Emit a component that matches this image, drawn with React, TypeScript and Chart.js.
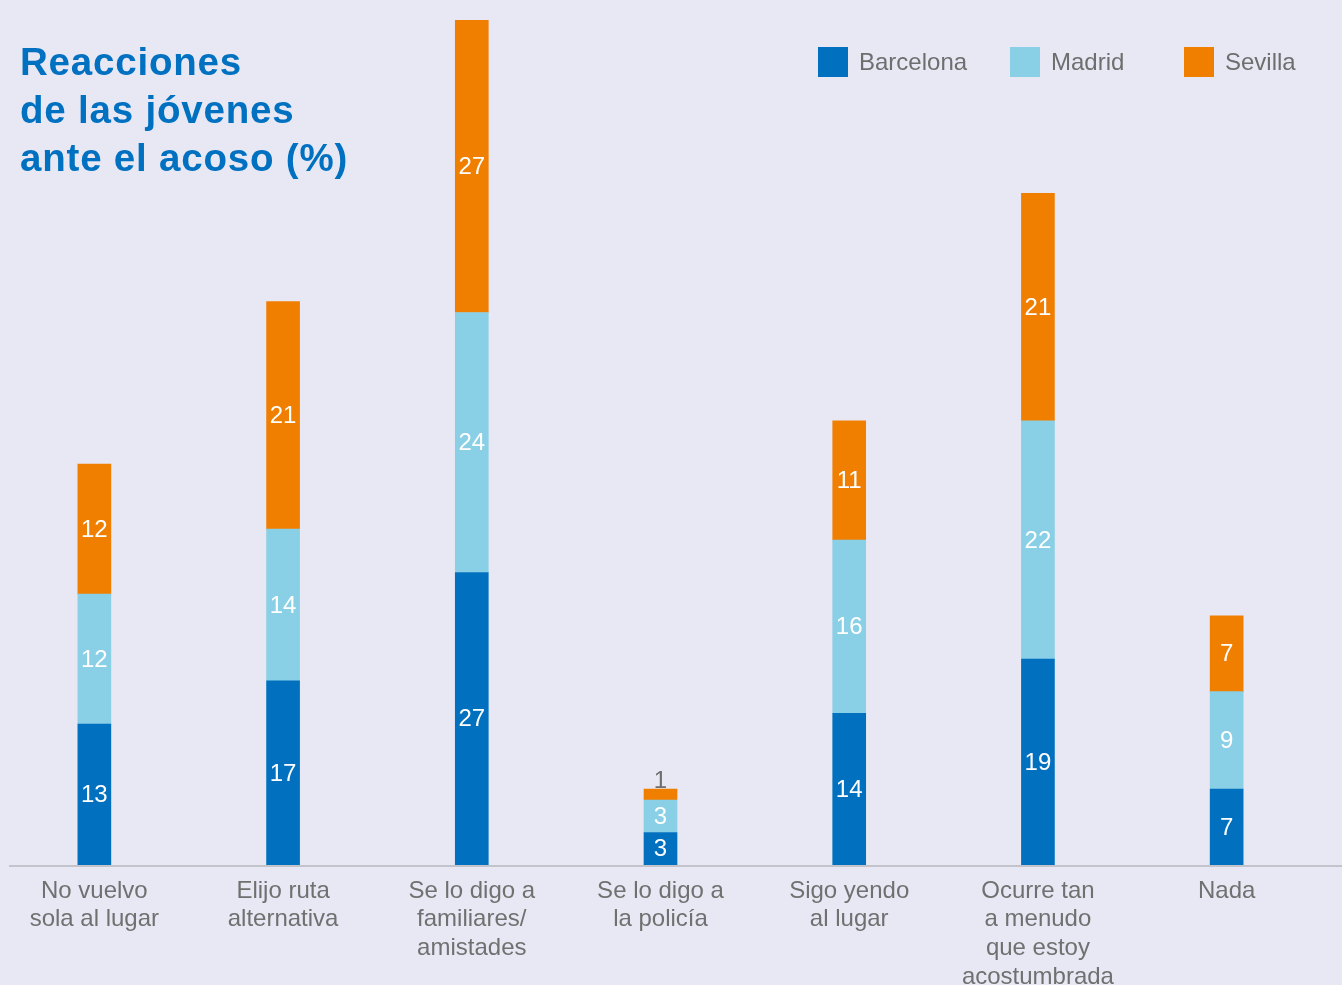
import React, { useEffect, useRef } from "react";
import { Chart, registerables } from "chart.js";

Chart.register(...registerables);

const categories: string[][] = [
  ["No vuelvo", "sola al lugar"],
  ["Elijo ruta", "alternativa"],
  ["Se lo digo a", "familiares/", "amistades"],
  ["Se lo digo a", "la policía"],
  ["Sigo yendo", "al lugar"],
  ["Ocurre tan", "a menudo", "que estoy", "acostumbrada"],
  ["Nada"],
];
const barcelona = [13, 17, 27, 3, 14, 19, 7];
const madrid = [12, 14, 24, 3, 16, 22, 9];
const sevilla = [12, 21, 27, 1, 11, 21, 7];
const seriesNames = ["Barcelona", "Madrid", "Sevilla"];
const seriesColors = ["#0070bf", "#89cfe5", "#f07f00"];
const titleLines = ["Reacciones", "de las jóvenes", "ante el acoso (%)"];

const FONT = "'Liberation Sans', Arial, Helvetica, sans-serif";
const BG = "#e8e8f5";

const valueLabels = {
  id: "valueLabels",
  afterDatasetsDraw(chart: any) {
    const ctx = chart.ctx;
    ctx.save();
    ctx.font = `24px ${FONT}`;
    ctx.textAlign = "center";
    chart.data.datasets.forEach((ds: any, di: number) => {
      const meta = chart.getDatasetMeta(di);
      meta.data.forEach((el: any, i: number) => {
        const v = ds.data[i];
        const h = el.base - el.y;
        if (h >= 20) {
          ctx.fillStyle = "#ffffff";
          ctx.textBaseline = "middle";
          ctx.fillText(String(v), el.x, (el.y + el.base) / 2 + 1);
        } else {
          ctx.fillStyle = "#6e6e6e";
          ctx.textBaseline = "alphabetic";
          ctx.fillText(String(v), el.x, el.y - 1);
        }
      });
    });
    ctx.restore();
  },
};

const baseLine = {
  id: "baseLine",
  beforeDatasetsDraw(chart: any) {
    const ctx = chart.ctx;
    const y = chart.chartArea.bottom + 1;
    ctx.save();
    ctx.strokeStyle = "#c3c3cc";
    ctx.lineWidth = 2;
    ctx.beginPath();
    ctx.moveTo(9, y);
    ctx.lineTo(chart.width, y);
    ctx.stroke();
    ctx.restore();
  },
};

export default function App() {
  const ref = useRef<HTMLCanvasElement>(null);

  useEffect(() => {
    if (!ref.current) return;
    const chart = new Chart(ref.current, {
      type: "bar",
      data: {
        labels: categories,
        datasets: [barcelona, madrid, sevilla].map((d, i) => ({
          label: seriesNames[i],
          data: d,
          backgroundColor: seriesColors[i],
          borderWidth: 0,
          barThickness: 33,
        })),
      },
      options: {
        responsive: false,
        animation: false,
        layout: { padding: { top: 20, left: 0, right: 21, bottom: 0 } },
        plugins: {
          legend: { display: false },
          title: { display: false },
          tooltip: { enabled: false },
        },
        scales: {
          x: {
            stacked: true,
            grid: { display: false },
            border: { display: false },
            ticks: {
              color: "#707070",
              font: { family: FONT, size: 24, lineHeight: 1.19 },
              padding: 4,
              maxRotation: 0,
              autoSkip: false,
            },
            afterFit: (scale: any) => {
              scale.height = 120;
            },
          },
          y: {
            stacked: true,
            display: false,
            min: 0,
            max: 78,
          },
        },
      },
      plugins: [baseLine, valueLabels],
    });
    return () => chart.destroy();
  }, []);

  const legendPos = [818, 1010, 1184];

  return (
    <div
      style={{
        position: "fixed",
        left: 0,
        top: 0,
        width: 1342,
        height: 985,
        background: BG,
        overflow: "hidden",
      }}
    >
      <canvas ref={ref} width={1342} height={985} style={{ position: "absolute", left: 0, top: 0 }} />
      <div
        style={{
          position: "absolute",
          left: 20,
          top: 38,
          fontFamily: FONT,
          fontWeight: "bold",
          fontSize: 38.5,
          letterSpacing: 0.8,
          lineHeight: "48px",
          color: "#0070c0",
          whiteSpace: "nowrap",
        }}
      >
        {titleLines.map((t, i) => (
          <div key={i}>{t}</div>
        ))}
      </div>
      {seriesNames.map((n, i) => (
        <div
          key={n}
          style={{
            position: "absolute",
            left: legendPos[i],
            top: 47,
            height: 30,
            display: "flex",
            alignItems: "center",
            fontFamily: FONT,
            fontSize: 24,
            color: "#6e6e6e",
            whiteSpace: "nowrap",
          }}
        >
          <span
            style={{
              display: "inline-block",
              width: 30,
              height: 30,
              background: seriesColors[i],
              marginRight: 11,
            }}
          />
          <span>{n}</span>
        </div>
      ))}
    </div>
  );
}
